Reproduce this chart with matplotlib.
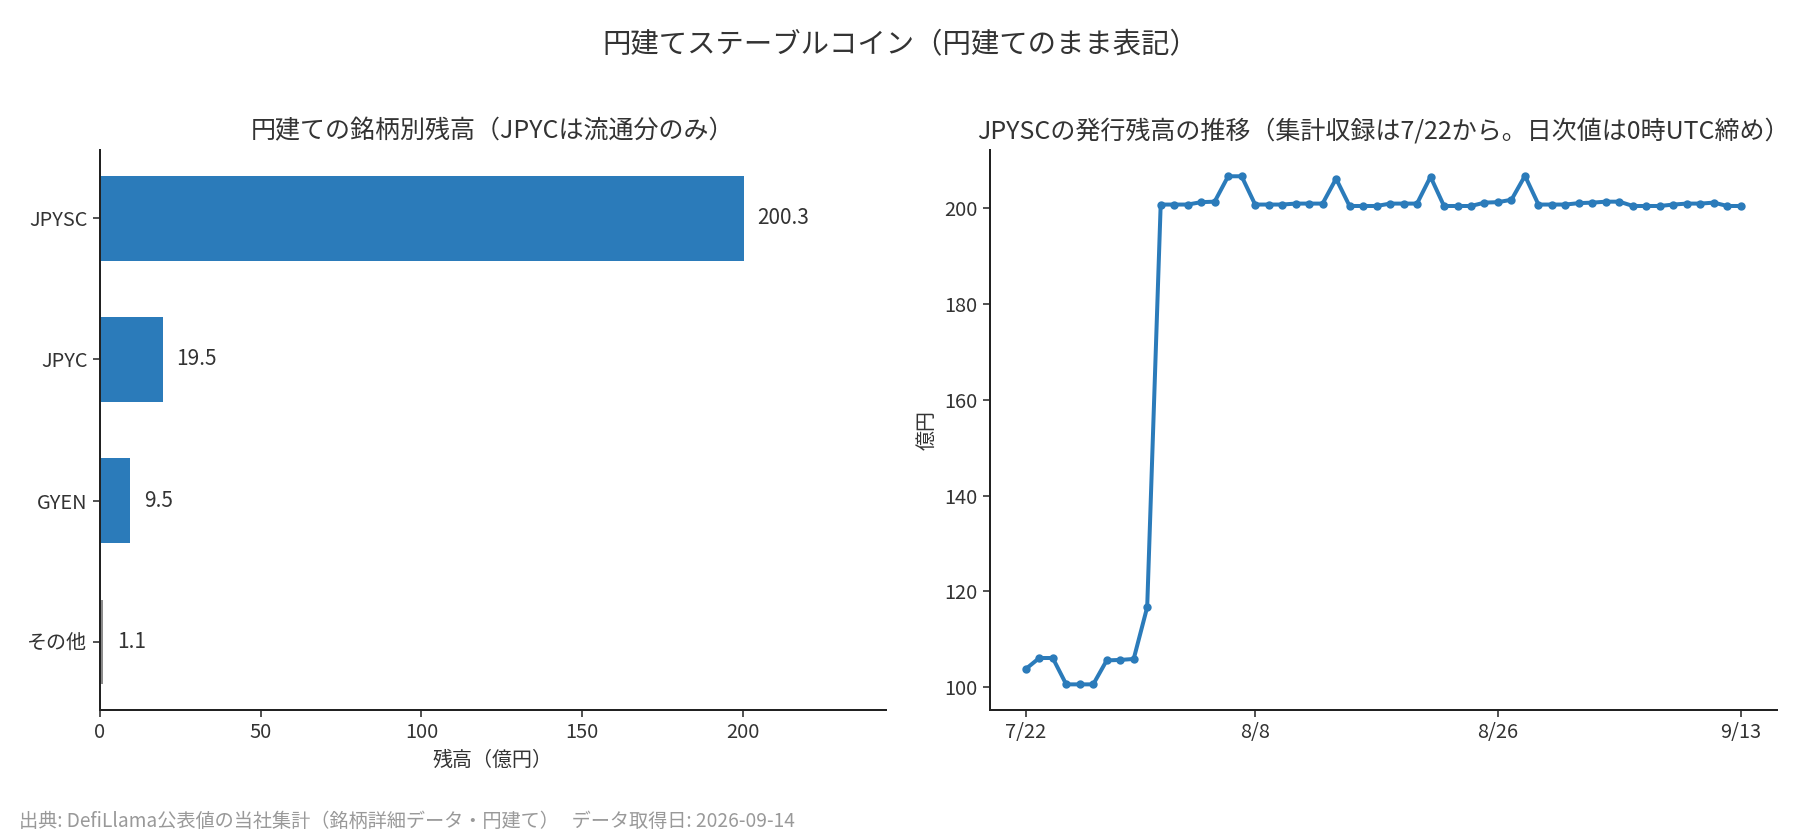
import matplotlib
matplotlib.use("Agg")
import matplotlib.pyplot as plt
import pandas as pd

plt.rcParams['font.family'] = ['Noto Sans CJK JP', 'DejaVu Sans']
plt.rcParams['text.color'] = '#333333'
plt.rcParams['axes.labelcolor'] = '#333333'
plt.rcParams['xtick.color'] = '#333333'
plt.rcParams['ytick.color'] = '#333333'

# ---- data ----
coins = ["JPYSC", "JPYC", "GYEN", "その他"]
balances = [200.3, 19.5, 9.5, 1.1]
bar_colors = ["#2b7bba", "#2b7bba", "#2b7bba", "#8c8c8c"]

start_date = "2026-07-22"
jpysc_values = [
    103.8, 106.1, 106.1, 100.6, 100.6, 100.6, 105.6, 105.7, 105.9, 116.7,
    200.7, 200.7, 200.7, 201.2, 201.3, 206.6, 206.6, 200.7, 200.7, 200.7,
    200.9, 200.9, 200.9, 206.1, 200.4, 200.4, 200.4, 200.9, 200.9, 200.9,
    206.5, 200.4, 200.4, 200.4, 201.1, 201.2, 201.7, 206.7, 200.7, 200.7,
    200.7, 201.0, 201.1, 201.3, 201.3, 200.4, 200.4, 200.4, 200.7, 200.9,
    200.9, 201.1, 200.4, 200.4,
]
date_ticks = ["2026-07-22", "2026-08-08", "2026-08-26", "2026-09-13"]
date_tick_labels = ["7/22", "8/8", "8/26", "9/13"]

dates = pd.date_range(start_date, periods=len(jpysc_values), freq="D")

fig = plt.figure(figsize=(15, 7), dpi=120)
ax1 = fig.add_axes([0.0555, 0.155, 0.4365, 0.666])
ax2 = fig.add_axes([0.550, 0.155, 0.437, 0.666])

blue = "#2b7bba"

# ---- left: bar chart ----
ypos = list(range(len(coins)))
ax1.barh(ypos, balances, height=0.6, color=bar_colors)
ax1.set_yticks(ypos)
ax1.set_yticklabels(coins)
ax1.invert_yaxis()
ax1.set_xlim(0, max(balances) * 1.22)
for y, v in zip(ypos, balances):
    ax1.annotate(f"{v:.1f}", xy=(v, y), xytext=(8, 0), textcoords="offset points",
                 va="center", ha="left", fontsize=12.5)
ax1.set_xlabel("残高（億円）", fontsize=12)
ax1.set_title("円建ての銘柄別残高（JPYCは流通分のみ）", fontsize=15, pad=7)

# ---- right: line chart ----
ax2.plot(dates, jpysc_values, color=blue, linewidth=2.4, marker="o", markersize=4)
ax2.set_xticks(pd.to_datetime(date_ticks))
ax2.set_xticklabels(date_tick_labels)
ax2.set_ylabel("億円", fontsize=12)
ax2.set_title("JPYSCの発行残高の推移（集計収録は7/22から。日次値は0時UTC締め）", fontsize=15, pad=7)

for ax in (ax1, ax2):
    ax.spines["top"].set_visible(False)
    ax.spines["right"].set_visible(False)
    ax.spines["left"].set_color("#222222")
    ax.spines["bottom"].set_color("#222222")
    ax.spines["left"].set_linewidth(1.2)
    ax.spines["bottom"].set_linewidth(1.2)
    ax.tick_params(labelsize=12, length=4, width=1.0)

fig.suptitle("円建てステーブルコイン（円建てのまま表記）", fontsize=17, y=0.965)
fig.text(0.0105, 0.022, "出典: DefiLlama公表値の当社集計（銘柄詳細データ・円建て）   データ取得日: 2026-09-14",
         fontsize=11.5, color="#999999", ha="left", va="center")

fig.savefig("out.png", dpi=120)
